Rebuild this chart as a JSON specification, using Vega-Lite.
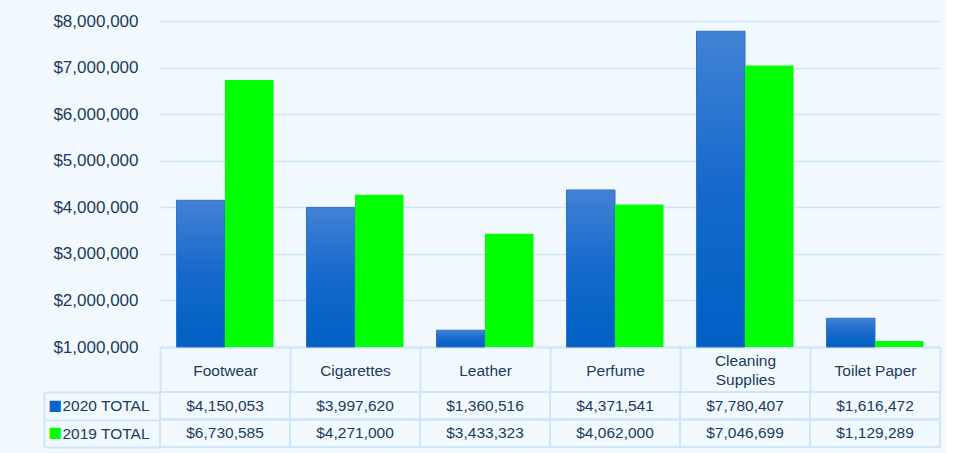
{
  "$schema": "https://vega.github.io/schema/vega-lite/v6.json",
  "background": "#f1f9fe",
  "padding": {"left": 43, "top": 12, "right": 5, "bottom": 5},
  "spacing": -7,
  "config": {"view": {"stroke": null}, "font": "Liberation Sans"},
  "datasets": {
    "d": [
      {"category": "Footwear", "series": "2020 TOTAL", "value": 4150053},
      {"category": "Cigarettes", "series": "2020 TOTAL", "value": 3997620},
      {"category": "Leather", "series": "2020 TOTAL", "value": 1360516},
      {"category": "Perfume", "series": "2020 TOTAL", "value": 4371541},
      {"category": "Cleaning Supplies", "series": "2020 TOTAL", "value": 7780407},
      {"category": "Toilet Paper", "series": "2020 TOTAL", "value": 1616472},
      {"category": "Footwear", "series": "2019 TOTAL", "value": 6730585},
      {"category": "Cigarettes", "series": "2019 TOTAL", "value": 4271000},
      {"category": "Leather", "series": "2019 TOTAL", "value": 3433323},
      {"category": "Perfume", "series": "2019 TOTAL", "value": 4062000},
      {"category": "Cleaning Supplies", "series": "2019 TOTAL", "value": 7046699},
      {"category": "Toilet Paper", "series": "2019 TOTAL", "value": 1129289}
    ]
  },
  "vconcat": [
    {
      "width": 780,
      "height": 326,
      "data": {"name": "d"},
      "encoding": {
        "x": {
          "field": "category", "type": "nominal",
          "sort": ["Footwear", "Cigarettes", "Leather", "Perfume", "Cleaning Supplies", "Toilet Paper"],
          "scale": {"paddingInner": 0, "paddingOuter": 0},
          "axis": {
            "title": null, "orient": "bottom", "tickBand": "extent", "tickSize": 44,
            "tickColor": "#cfe5f8", "tickWidth": 2, "domainColor": "#cfe5f8", "domainWidth": 2,
            "labelAngle": 0, "labelBaseline": "middle", "labelAlign": "center",
            "labelPadding": {"condition": {"test": "datum.value == 'Cleaning Supplies'", "value": -31}, "value": -21},
            "labelFontSize": 15.5, "labelColor": "#1d3a5c", "labelLineHeight": 19, "labelLimit": 0,
            "labelExpr": "datum.label == 'Cleaning Supplies' ? ['Cleaning', 'Supplies'] : datum.label"
          }
        },
        "xOffset": {
          "field": "series", "type": "nominal", "sort": ["2020 TOTAL", "2019 TOTAL"],
          "scale": {"paddingInner": 0, "paddingOuter": 0.34}
        },
        "y": {
          "field": "value", "type": "quantitative",
          "scale": {"domain": [1000000, 8000000], "zero": false, "nice": false},
          "axis": {
            "title": null, "values": [1000000, 2000000, 3000000, 4000000, 5000000, 6000000, 7000000, 8000000],
            "format": "$,.0f", "domain": false, "ticks": false, "labelPadding": 22,
            "labelFontSize": 17, "labelColor": "#1d3a5c", "gridColor": "#cfe5f8", "gridWidth": 1.5
          }
        },
        "y2": {"datum": 1000000}
      },
      "layer": [
        {
          "transform": [{"filter": "datum.series == '2020 TOTAL'"}],
          "mark": {
            "type": "bar", "stroke": "#2f72c9", "strokeWidth": 1,
            "fill": {"gradient": "linear", "x1": 0, "y1": 0, "x2": 0, "y2": 1,
              "stops": [{"offset": 0, "color": "#4282d5"}, {"offset": 0.5, "color": "#1569cc"}, {"offset": 1, "color": "#0060c4"}]}
          }
        },
        {
          "transform": [{"filter": "datum.series == '2019 TOTAL'"}],
          "mark": {"type": "bar", "fill": "#00ff00"}
        }
      ]
    },
    {
      "width": 780,
      "height": 55,
      "data": {"name": "d"},
      "encoding": {
        "x": {
          "field": "category", "type": "nominal",
          "sort": ["Footwear", "Cigarettes", "Leather", "Perfume", "Cleaning Supplies", "Toilet Paper"],
          "scale": {"paddingInner": 0, "paddingOuter": 0},
          "axis": null
        }
      },
      "layer": [
        {
          "mark": {"type": "rect", "fill": "transparent", "stroke": "#cfe5f8", "strokeWidth": 2},
          "encoding": {
            "y": {
              "field": "series", "type": "nominal", "sort": ["2020 TOTAL", "2019 TOTAL"],
              "scale": {"paddingInner": 0, "paddingOuter": 0},
              "axis": {
                "title": null, "orient": "left", "tickBand": "extent", "tickSize": 116,
                "tickColor": "#cfe5f8", "tickWidth": 2, "domain": false,
                "labelAlign": "left", "labelPadding": -18, "labelFontSize": 15.5, "labelColor": "#1d3a5c"
              }
            }
          }
        },
        {
          "mark": {"type": "text", "fontSize": 15.5, "color": "#1d3a5c"},
          "encoding": {
            "y": {
              "field": "series", "type": "nominal", "sort": ["2020 TOTAL", "2019 TOTAL"],
              "scale": {"paddingInner": 0, "paddingOuter": 0},
              "axis": {
                "title": null, "orient": "left", "offset": 116, "ticks": false,
                "domain": true, "domainColor": "#cfe5f8", "domainWidth": 2,
                "labelExpr": "'■'", "labelAlign": "left", "labelPadding": -4, "labelFontSize": 14.5,
                "labelFont": "DejaVu Sans",
                "labelColor": {"condition": {"test": "datum.value == '2020 TOTAL'", "value": "#0a64c8"}, "value": "#00ff00"}
              }
            },
            "text": {"field": "value", "type": "quantitative", "format": "$,.0f"}
          }
        }
      ],
      "resolve": {"axis": {"y": "independent"}}
    }
  ]
}
